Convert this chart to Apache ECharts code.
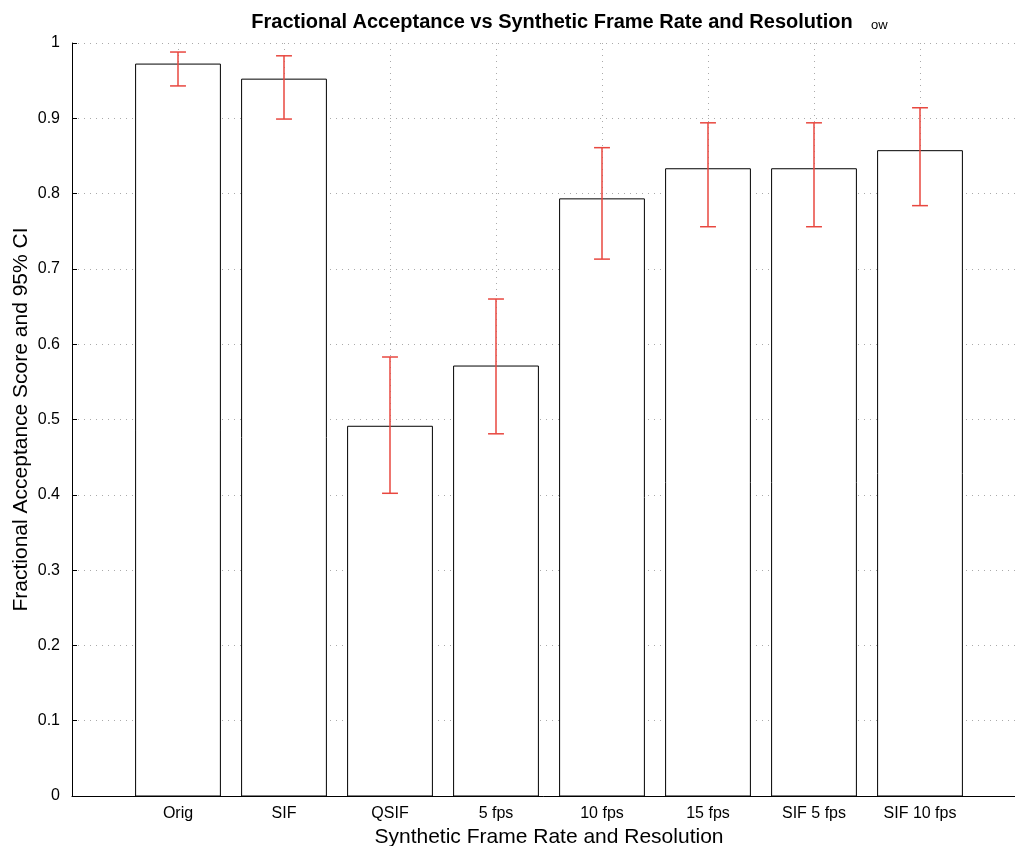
<!DOCTYPE html>
<html><head><meta charset="utf-8">
<script src="https://cdn.jsdelivr.net/npm/echarts@6/dist/echarts.min.js"></script>
<style>html,body{margin:0;padding:0;background:#fff}#c{width:1015px;height:846px}</style>
</head><body><div id="c"></div>
<script>
const categories = ['Orig','SIF','QSIF','5 fps','10 fps','15 fps','SIF 5 fps','SIF 10 fps'];
const scores = [0.972, 0.952, 0.491, 0.571, 0.793, 0.833, 0.833, 0.857];
const ciUpper = [0.988, 0.983, 0.583, 0.660, 0.861, 0.894, 0.894, 0.914];
const ciLower = [0.943, 0.899, 0.402, 0.481, 0.713, 0.756, 0.756, 0.784];
const yTicks = [0,0.1,0.2,0.3,0.4,0.5,0.6,0.7,0.8,0.9,1];

const font = 'Liberation Sans, Arial, sans-serif';
const barData = categories.map((c,i)=>[i+1, scores[i]]);
const errData = categories.map((c,i)=>[i+1, ciLower[i], ciUpper[i]]);

const chart = echarts.init(document.getElementById('c'), null, {renderer:'canvas'});
chart.setOption({
  animation:false,
  backgroundColor:'#fff',
  title:[{
    text:'Fractional Acceptance vs Synthetic Frame Rate and Resolution',
    left:547, top:7, textAlign:'center',
    textStyle:{fontFamily:font, fontSize:20, fontWeight:'bold', color:'#000'}
  },{
    text:'ow', left:866, top:14,
    textStyle:{fontFamily:font, fontSize:13, fontWeight:'normal', color:'#000'}
  }],
  grid:{left:72, top:43, width:954, height:753, containLabel:false, outerBoundsMode:'none'},
  xAxis:{
    type:'value', min:0, max:9, interval:1,
    name:'Synthetic Frame Rate and Resolution', nameLocation:'middle', nameGap:30,
    nameTextStyle:{fontFamily:font, fontSize:21, color:'#000'},
    axisLine:{show:true, lineStyle:{color:'#000', width:1}},
    axisTick:{show:true, inside:true, length:5, lineStyle:{color:'#000'}},
    axisLabel:{fontFamily:font, fontSize:16, color:'#000', margin:10,
      formatter:v=>{const i=Math.round(v)-1; return (i>=0&&i<categories.length)?categories[i]:'';}},
    splitLine:{show:true, lineStyle:{color:'#aaa', type:[1,5], width:1}}
  },
  yAxis:{
    type:'value', min:0, max:1, interval:0.1,
    name:'Fractional Acceptance Score and 95% CI', nameLocation:'middle', nameGap:40,
    nameMoveOverlap:false,
    nameTextStyle:{fontFamily:font, fontSize:21, color:'#000'},
    axisLine:{show:true, lineStyle:{color:'#000', width:1}},
    axisTick:{show:true, inside:true, length:5, lineStyle:{color:'#000'}},
    axisLabel:{fontFamily:font, fontSize:16, color:'#000', margin:12,
      formatter:v=>{const t=yTicks.find(y=>Math.abs(y-v)<1e-6); return t===undefined?'':String(t);}},
    splitLine:{show:true, lineStyle:{color:'#aaa', type:[1,5], width:1}}
  },
  series:[{
    type:'custom', data:barData, z:3,
    renderItem:(params, api)=>{
      const x=api.value(0), y=api.value(1);
      const p0=api.coord([x-0.4, y]);
      const p1=api.coord([x+0.4, 0]);
      return {type:'rect', shape:{x:p0[0], y:p0[1], width:p1[0]-p0[0], height:p1[1]-p0[1]},
        style:{fill:'#fff', stroke:'#000', lineWidth:1}};
    }
  },{
    type:'custom', data:errData, z:5,
    renderItem:(params, api)=>{
      const x=api.value(0);
      const lo=api.coord([x, api.value(1)]);
      const hi=api.coord([x, api.value(2)]);
      const hw=api.size([0.075,0])[0];
      const st={stroke:'#e8473f', lineWidth:1.5};
      return {type:'group', children:[
        {type:'line', shape:{x1:lo[0], y1:lo[1], x2:hi[0], y2:hi[1]}, style:st},
        {type:'line', shape:{x1:hi[0]-hw, y1:hi[1], x2:hi[0]+hw, y2:hi[1]}, style:st},
        {type:'line', shape:{x1:lo[0]-hw, y1:lo[1], x2:lo[0]+hw, y2:lo[1]}, style:st}
      ]};
    }
  }]
});
</script></body></html>
